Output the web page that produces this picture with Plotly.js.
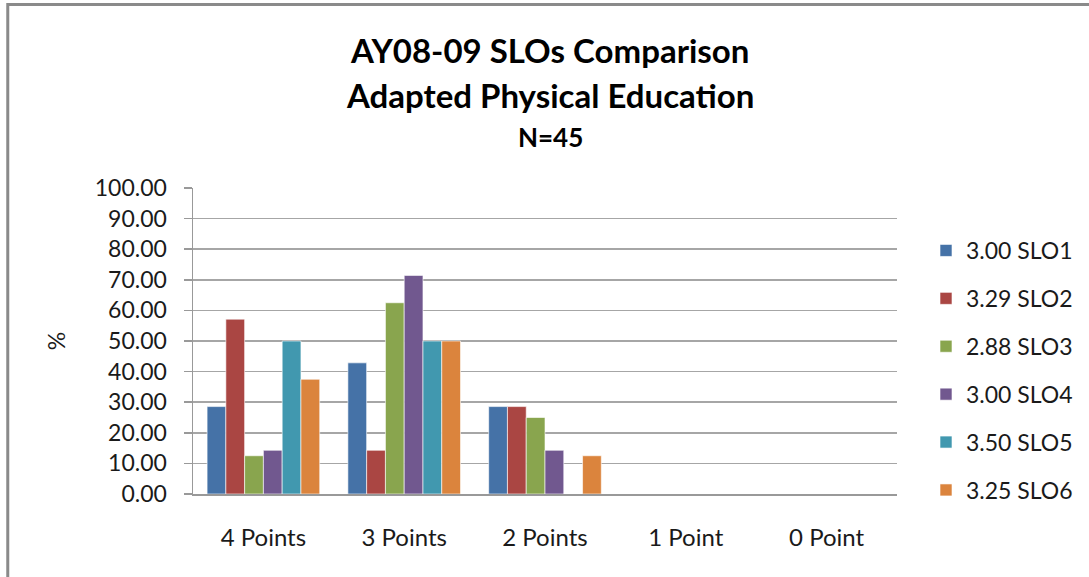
<!DOCTYPE html>
<html>
<head>
<meta charset="utf-8">
<script src="https://cdn.plot.ly/plotly-3.0.1.min.js"></script>
<style>html,body{margin:0;padding:0;background:#fff;}#chart{width:1089px;height:577px;}</style>
</head>
<body>
<div id="chart"></div>
<script>
const categories = ["4 Points", "3 Points", "2 Points", "1 Point", "0 Point"];
const seriesNames = ["3.00 SLO1", "3.29 SLO2", "2.88 SLO3", "3.00 SLO4", "3.50 SLO5", "3.25 SLO6"];
const slo1 = [28.57, 42.86, 28.57, 0, 0];
const slo2 = [57.14, 14.29, 28.57, 0, 0];
const slo3 = [12.50, 62.50, 25.00, 0, 0];
const slo4 = [14.29, 71.43, 14.29, 0, 0];
const slo5 = [50.00, 50.00, 0, 0, 0];
const slo6 = [37.50, 50.00, 12.50, 0, 0];
const seriesValues = [slo1, slo2, slo3, slo4, slo5, slo6];
const colors = ["#4572A7", "#AA4643", "#89A54E", "#71588F", "#4198AF", "#DB843D"];

const FONT = "Lato, 'Open Sans', sans-serif";

const traces = seriesNames.map((name, i) => ({
  type: "bar",
  name: name,
  x: categories,
  y: seriesValues[i],
  legendgroup: "g" + i,
  marker: {color: colors[i], line: {color: "rgba(255,255,255,0.6)", width: 1}},
  hoverinfo: "x+y+name"
}));

const L = 193, R = 898, T = 188, B = 494;
const W = R - L, H = B - T;
const px = x => (x - L) / W;
const py = y => (B - y) / H;

const layout = {
  width: 1089, height: 577,
  margin: {l: L, r: 1089 - R, t: T, b: 577 - B, pad: 0},
  paper_bgcolor: "#ffffff",
  plot_bgcolor: "#ffffff",
  font: {family: FONT, size: 23, color: "#1a1a1a"},
  barmode: "group",
  bargap: 0.2,
  bargroupgap: 0,
  showlegend: true,
  legend: {
    x: px(926), y: py(229), xanchor: "left", yanchor: "top",
    font: {family: FONT, size: 23, color: "#1a1a1a"},
    traceorder: "grouped", tracegroupgap: 15,
    itemwidth: 30, bgcolor: "rgba(0,0,0,0)"
  },
  xaxis: {
    type: "category",
    showgrid: false,
    showline: true, linecolor: "#999", linewidth: 1.5,
    ticks: "", ticklabelstandoff: 22,
    tickfont: {family: FONT, size: 24, color: "#1a1a1a"},
    zeroline: false, fixedrange: true
  },
  yaxis: {
    range: [0, 100], dtick: 10, tick0: 0,
    tickformat: ".2f",
    showgrid: true, gridcolor: "#a6a6a6", gridwidth: 1.5,
    showline: true, linecolor: "#999", linewidth: 1.5,
    ticks: "outside", ticklen: 8, tickcolor: "#999", tickwidth: 1.5,
    ticklabelstandoff: 12,
    tickfont: {family: FONT, size: 23, color: "#1a1a1a"},
    zeroline: false, fixedrange: true,
    title: {text: "%", font: {family: FONT, size: 23, color: "#1a1a1a"}, standoff: 22}
  },
  annotations: [
    {text: "<b>AY08-09 SLOs Comparison</b>", xref: "paper", yref: "paper", x: px(550), y: py(50), xanchor: "center", yanchor: "middle", showarrow: false, font: {family: FONT, size: 33, color: "#000"}},
    {text: "<b>Adapted Physical Education</b>", xref: "paper", yref: "paper", x: px(551), y: py(95), xanchor: "center", yanchor: "middle", showarrow: false, font: {family: FONT, size: 33, color: "#000"}},
    {text: "<b>N=45</b>", xref: "paper", yref: "paper", x: px(551), y: py(137), xanchor: "center", yanchor: "middle", showarrow: false, font: {family: FONT, size: 26, color: "#000"}}
  ],
  shapes: [
    {type: "rect", xref: "paper", yref: "paper", x0: px(7.5), x1: px(1100), y0: py(4.5), y1: py(590), line: {color: "#8a8a8a", width: 3}, fillcolor: "rgba(0,0,0,0)", layer: "above"}
  ]
};

Plotly.newPlot("chart", traces, layout, {displayModeBar: false, staticPlot: true});
</script>
</body>
</html>
